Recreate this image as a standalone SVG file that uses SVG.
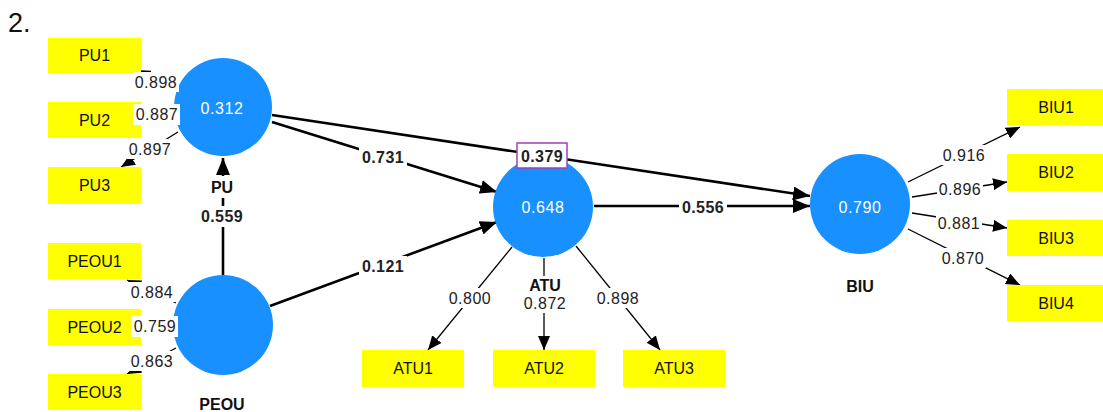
<svg xmlns="http://www.w3.org/2000/svg" width="1103" height="412" viewBox="0 0 1103 412">
<style>
.box{fill:#ffff00}
.bt{font-family:"Liberation Sans",Arial,sans-serif;font-size:16px;fill:#111;text-anchor:middle}
.lv{fill:#1890ff}
.cv{font-family:"Liberation Sans",Arial,sans-serif;font-size:16px;fill:#fff;text-anchor:middle;letter-spacing:0.6px}
.cn{font-family:"Liberation Sans",Arial,sans-serif;font-size:16px;font-weight:bold;fill:#111;text-anchor:middle}
.s{stroke:#000;stroke-width:2.6;fill:none}
.m{stroke:#000;stroke-width:1.3;fill:none}
.wl{fill:#fff}
.pl{font-family:"Liberation Sans",Arial,sans-serif;font-size:16px;font-weight:bold;fill:#222;text-anchor:middle;letter-spacing:0.4px}
.ml{font-family:"Liberation Sans",Arial,sans-serif;font-size:16px;fill:#222;text-anchor:middle;letter-spacing:0.5px}
</style>
<defs>
<marker id="ab" markerUnits="userSpaceOnUse" markerWidth="18" markerHeight="14" refX="17" refY="7" orient="auto"><path d="M0,0 L17,7 L0,14 z" fill="#000"/></marker>
<marker id="as" markerUnits="userSpaceOnUse" markerWidth="15" markerHeight="12" refX="14" refY="6" orient="auto"><path d="M0,0 L14,6 L0,12 z" fill="#000"/></marker>
</defs>
<rect width="1103" height="412" fill="#fff"/>
<text x="8" y="32" font-family="Liberation Sans, Arial, sans-serif" font-size="27" fill="#111">2.</text>

<g id="connectors">
<line class="s" x1="223" y1="276" x2="223" y2="158" marker-end="url(#ab)"/>
<line class="s" x1="272" y1="122" x2="497" y2="192" marker-end="url(#ab)"/>
<line class="s" x1="270" y1="306" x2="497" y2="222" marker-end="url(#ab)"/>
<line class="s" x1="272" y1="115" x2="810" y2="196" marker-end="url(#ab)"/>
<line class="s" x1="594" y1="206" x2="810" y2="206" marker-end="url(#ab)"/>
<line class="m" x1="177" y1="90" x2="136" y2="70" marker-end="url(#as)"/>
<line class="m" x1="174" y1="113" x2="136" y2="120" marker-end="url(#as)"/>
<line class="m" x1="178" y1="132" x2="121" y2="167" marker-end="url(#as)"/>
<line class="m" x1="176" y1="303" x2="127" y2="280" marker-end="url(#as)"/>
<line class="m" x1="174" y1="327" x2="136" y2="327" marker-end="url(#as)"/>
<line class="m" x1="176" y1="348" x2="127" y2="374" marker-end="url(#as)"/>
<line class="m" x1="512" y1="247" x2="428" y2="350" marker-end="url(#as)"/>
<line class="m" x1="544" y1="258" x2="544" y2="350" marker-end="url(#as)"/>
<line class="m" x1="576" y1="246" x2="660" y2="350" marker-end="url(#as)"/>
<line class="m" x1="908" y1="182" x2="1020" y2="127" marker-end="url(#as)"/>
<line class="m" x1="912" y1="197" x2="1007" y2="182" marker-end="url(#as)"/>
<line class="m" x1="912" y1="213" x2="1007" y2="228" marker-end="url(#as)"/>
<line class="m" x1="908" y1="229" x2="1020" y2="285" marker-end="url(#as)"/>
</g>

<g id="PU1"><rect class="box" x="48" y="38" width="93" height="35"/><text class="bt" x="94.5" y="61">PU1</text></g>
<g id="PU2"><rect class="box" x="48" y="102" width="93" height="36"/><text class="bt" x="94.5" y="126">PU2</text></g>
<g id="PU3"><rect class="box" x="48" y="167" width="93" height="37"/><text class="bt" x="94.5" y="191">PU3</text></g>
<g id="PEOU1"><rect class="box" x="48" y="243" width="93" height="36"/><text class="bt" x="94.5" y="267">PEOU1</text></g>
<g id="PEOU2"><rect class="box" x="48" y="309" width="93" height="36"/><text class="bt" x="94.5" y="333">PEOU2</text></g>
<g id="PEOU3"><rect class="box" x="48" y="374" width="93" height="36"/><text class="bt" x="94.5" y="398">PEOU3</text></g>
<g id="ATU1"><rect class="box" x="362" y="350" width="102" height="37"/><text class="bt" x="413" y="374">ATU1</text></g>
<g id="ATU2"><rect class="box" x="493" y="350" width="102" height="37"/><text class="bt" x="544" y="374">ATU2</text></g>
<g id="ATU3"><rect class="box" x="623" y="350" width="102" height="37"/><text class="bt" x="674" y="374">ATU3</text></g>
<g id="BIU1"><rect class="box" x="1007" y="89" width="96" height="36"/><text class="bt" x="1056" y="113">BIU1</text></g>
<g id="BIU2"><rect class="box" x="1007" y="154" width="96" height="37"/><text class="bt" x="1056" y="178">BIU2</text></g>
<g id="BIU3"><rect class="box" x="1007" y="220" width="96" height="36"/><text class="bt" x="1056" y="244">BIU3</text></g>
<g id="BIU4"><rect class="box" x="1007" y="285" width="96" height="36"/><text class="bt" x="1056" y="309">BIU4</text></g>

<g id="PU"><circle class="lv" cx="223" cy="107" r="49"/><text class="cv" x="222" y="114">0.312</text>
<rect class="wl" x="207" y="176" width="32" height="22"/><text class="cn" x="222" y="193">PU</text></g>
<g id="PEOU"><circle class="lv" cx="223" cy="325" r="50"/><text class="cn" x="222" y="410">PEOU</text></g>
<g id="ATU"><circle class="lv" cx="543" cy="207" r="50"/><text class="cv" x="543" y="213">0.648</text>
<rect class="wl" x="526" y="276" width="38" height="18"/><text class="cn" x="545" y="291">ATU</text></g>
<g id="BIU"><circle class="lv" cx="860" cy="204" r="50"/><text class="cv" x="860" y="213">0.790</text><text class="cn" x="860" y="292">BIU</text></g>

<g id="path-labels">
<rect class="wl" x="198" y="206" width="48" height="21"/><text class="pl" x="222" y="222">0.559</text>
<rect class="wl" x="359" y="147" width="48" height="21"/><text class="pl" x="383" y="163">0.731</text>
<rect class="wl" x="359" y="256" width="48" height="21"/><text class="pl" x="383" y="272">0.121</text>
<rect x="517" y="143" width="50" height="25" fill="#fff" stroke="#a040b0" stroke-width="1.5"/><text class="pl" x="542" y="162">0.379</text>
<rect class="wl" x="679" y="197" width="48" height="21"/><text class="pl" x="703" y="213">0.556</text>
</g>
<g id="loading-labels">
<rect class="wl" x="133" y="72" width="46" height="20"/><text class="ml" x="156" y="88">0.898</text>
<rect class="wl" x="133" y="104" width="47" height="21"/><text class="ml" x="157" y="120">0.887</text>
<rect class="wl" x="127" y="139" width="46" height="20"/><text class="ml" x="150" y="155">0.897</text>
<rect class="wl" x="129" y="282" width="46" height="20"/><text class="ml" x="152" y="298">0.884</text>
<rect class="wl" x="131" y="316" width="47" height="21"/><text class="ml" x="155" y="332">0.759</text>
<rect class="wl" x="129" y="351" width="46" height="20"/><text class="ml" x="152" y="367">0.863</text>
<rect class="wl" x="447" y="288" width="46" height="20"/><text class="ml" x="470" y="304">0.800</text>
<rect class="wl" x="522" y="294" width="46" height="19"/><text class="ml" x="545" y="309">0.872</text>
<rect class="wl" x="595" y="288" width="46" height="20"/><text class="ml" x="618" y="304">0.898</text>
<rect class="wl" x="941" y="145" width="46" height="20"/><text class="ml" x="964" y="161">0.916</text>
<rect class="wl" x="937" y="179" width="46" height="20"/><text class="ml" x="960" y="195">0.896</text>
<rect class="wl" x="936" y="213" width="46" height="20"/><text class="ml" x="959" y="229">0.881</text>
<rect class="wl" x="940" y="248" width="46" height="20"/><text class="ml" x="963" y="264">0.870</text>
</g>
</svg>
